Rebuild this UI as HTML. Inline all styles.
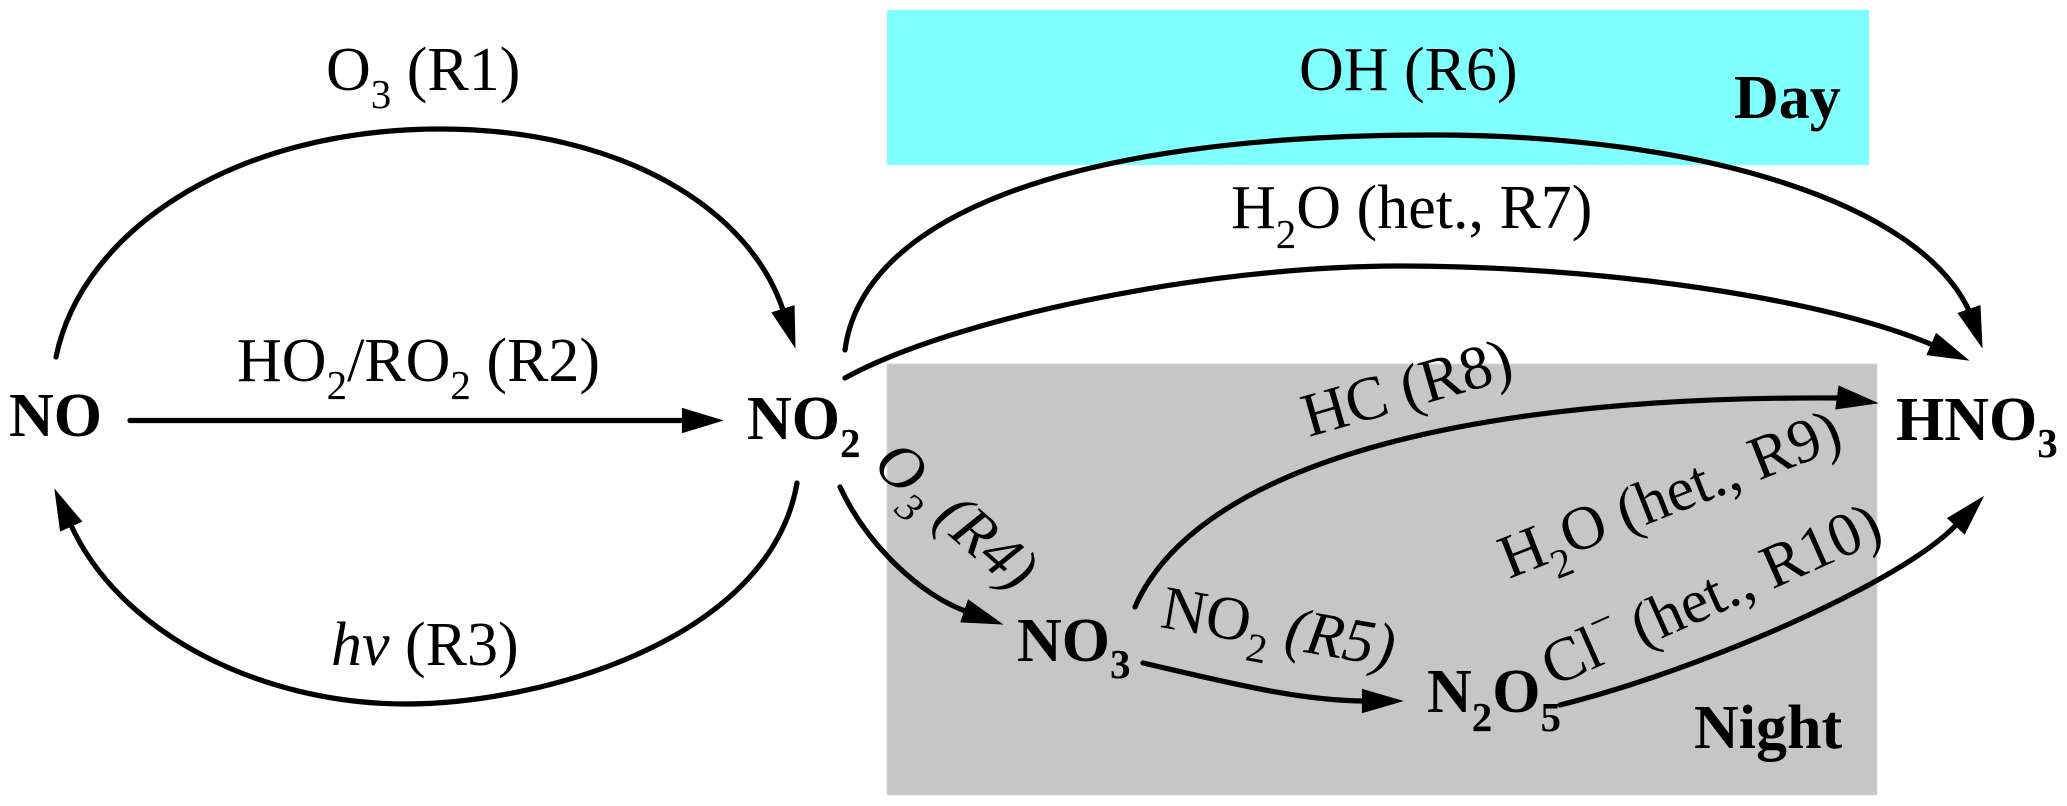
<!DOCTYPE html>
<html>
<head>
<meta charset="utf-8">
<style>
  html, body { margin: 0; padding: 0; background: #ffffff; }
  body { width: 2067px; height: 806px; overflow: hidden; }
  svg { display: block; }
  text { font-family: "Liberation Serif", "Times New Roman", serif; fill: #000; }
  .lbl { font-size: 62px; }
  .node { font-size: 62px; font-weight: bold; }
</style>
</head>
<body>
<svg width="2067" height="806" viewBox="0 0 2067 806" xmlns="http://www.w3.org/2000/svg">
  <!-- background regions -->
  <rect x="887" y="10" width="982" height="155" fill="#80ffff"/>
  <rect x="887" y="364" width="990" height="431" fill="#c6c6c6" stroke="#d8d8d8" stroke-width="1"/>

  <g fill="none" stroke="#000" stroke-width="5.2" stroke-linejoin="round" stroke-linecap="round">
    <!-- R1 -->
    <path d="M56,357 C82,230 235,129 440,129 C620,129 751,208 784,313"/>
    <!-- R2 -->
    <path d="M130,420.5 L686,420.5"/>
    <!-- R3 -->
    <path d="M797,483 C770,640 540,704 406,704 C260,704 119,633 70,523"/>
    <!-- R4 -->
    <path d="M840,487 C867,545 921,596 968,612"/>
    <!-- R5 -->
    <path d="M1143,663 C1230,683 1300,701 1366,701"/>
    <!-- R6 -->
    <path d="M845,350 C862,220 1060,135 1433,135 C1700,135 1922,203 1970,313"/>
    <!-- R7 -->
    <path d="M845,378 C950,320 1200,266 1400,266 C1600,266 1825,298 1935,346"/>
    <!-- R8 -->
    <path d="M1135,607 C1190,480 1420,395 1841,398"/>
    <!-- R10 -->
    <path d="M1560,705 C1700,670 1904,582 1958,523"/>
  </g>

  <!-- arrowheads -->
  <g fill="#000" stroke="#000" stroke-width="1" stroke-linejoin="miter">
    <polygon points="795,347 772.1,312.7 794.1,305.75"/>
    <polygon points="722,420.5 682.4,408.4 682.4,432.6"/>
    <polygon points="55,490 81.6,521.5 60.5,530.9"/>
    <polygon points="1002,624 960.9,621.9 968.3,600.1"/>
    <polygon points="1402,701 1362.4,689.45 1362.4,712.55"/>
    <polygon points="1982,347 1958.2,313.2 1980,305.75"/>
    <polygon points="1968,360 1927.1,354.7 1936.3,333.6"/>
    <polygon points="1877,403 1835.9,408.9 1838.9,386.1"/>
    <polygon points="1983,497 1964.6,533.9 1947.7,518.2"/>
  </g>

  <!-- node labels -->
  <text class="node" x="9" y="436">NO</text>
  <text class="node" x="747" y="439">NO<tspan font-size="41" dy="18">2</tspan></text>
  <text class="node" x="1896" y="440">HNO<tspan font-size="41" dy="17">3</tspan></text>
  <text class="node" x="1017" y="661">NO<tspan font-size="41" dy="17">3</tspan></text>
  <text class="node" x="1427" y="712">N<tspan font-size="41" dy="19">2</tspan><tspan dy="-19">O</tspan><tspan font-size="41" dy="19">5</tspan></text>
  <text class="node" x="1734" y="118">Day</text>
  <text class="node" x="1694" y="748">Night</text>

  <!-- reaction labels -->
  <text class="lbl" x="326" y="90">O<tspan font-size="41" dy="18">3</tspan><tspan dy="-18"> (R1)</tspan></text>
  <text class="lbl" x="237" y="381">HO<tspan font-size="41" dy="18">2</tspan><tspan dy="-18">/RO</tspan><tspan font-size="41" dy="18">2</tspan><tspan dy="-18"> (R2)</tspan></text>
  <text class="lbl" x="331" y="665"><tspan font-style="italic">hv</tspan> (R3)</text>
  <text class="lbl" x="1299" y="90">OH (R6)</text>
  <text class="lbl" x="1231" y="228">H<tspan font-size="41" dy="20">2</tspan><tspan dy="-20">O (het., R7)</tspan></text>

  <text class="lbl" transform="translate(871,468) rotate(41)" font-style="italic">O<tspan font-size="41" dy="18">3</tspan><tspan dy="-18"> (R4)</tspan></text>
  <text class="lbl" transform="translate(1159,627) rotate(9.8)">NO<tspan font-size="41" dy="18">2</tspan><tspan dy="-18" font-style="italic"> (R5)</tspan></text>
  <text class="lbl" transform="translate(1309,437) rotate(-16)">HC (R8)</text>
  <text class="lbl" transform="translate(1509,579) rotate(-21.5)">H<tspan font-size="41" dy="18">2</tspan><tspan dy="-18">O (het., R9)</tspan></text>
  <text class="lbl" transform="translate(1553,687) rotate(-24)">Cl<tspan font-size="41" dy="-28">−</tspan><tspan dy="28"> (het., R10)</tspan></text>
</svg>
</body>
</html>
